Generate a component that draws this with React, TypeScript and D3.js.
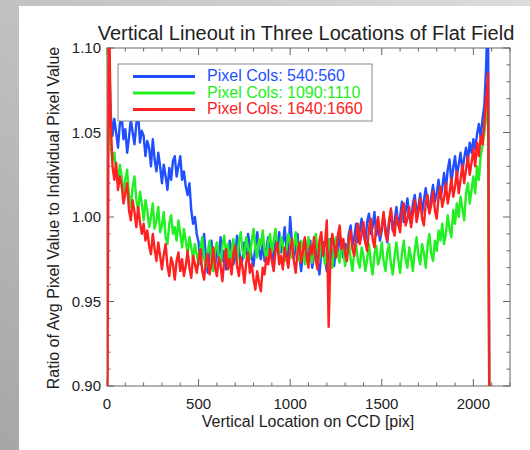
import React from 'react';
import * as d3 from 'd3';

const STEP = 10; // sampling step along CCD (pix)

const blueVals = [
  1.15, 1.10, 1.062, 1.048, 1.058, 1.05, 1.041, 1.055, 1.06, 1.046,
  1.052, 1.038, 1.047, 1.058, 1.05, 1.043, 1.055, 1.062, 1.044, 1.051,
  1.048, 1.036, 1.045, 1.041, 1.03, 1.046, 1.034, 1.027, 1.038, 1.03,
  1.02, 1.031, 1.024, 1.016, 1.029, 1.022, 1.033, 1.036, 1.024, 1.03,
  1.036, 1.022, 1.027, 1.018, 1.013, 1.02, 1.004, 0.996, 1.0, 0.99,
  0.985, 0.972, 0.98, 0.99, 0.976, 0.967, 0.978, 0.986, 0.974, 0.97,
  0.982, 0.976, 0.988, 0.974, 0.98, 0.969, 0.974, 0.986, 0.979, 0.972,
  0.977, 0.989, 0.982, 0.972, 0.975, 0.985, 0.978, 0.99, 0.983, 0.976,
  0.971, 0.983, 0.991, 0.98, 0.975, 0.986, 0.974, 0.981, 0.988, 0.977,
  0.982, 0.973, 0.986, 0.98, 0.991, 0.979, 0.984, 0.994, 0.981, 0.976,
  1.0, 0.984, 0.975, 0.982, 0.99, 0.977, 0.968, 0.98, 0.987, 0.974,
  0.979, 0.986, 0.97, 0.977, 0.984, 0.973, 0.966, 0.979, 0.985, 0.975,
  0.968, 0.98, 0.987, 0.976, 0.971, 0.983, 0.978, 0.99, 0.981, 0.976,
  0.984, 0.978, 0.99, 0.995, 0.983, 0.988, 0.996, 0.985, 0.992, 0.999,
  0.99, 0.985, 0.997, 1.002, 0.99, 0.994, 1.003, 0.989, 0.995, 0.986,
  0.992, 1.001, 0.994, 0.985, 0.996, 1.004, 0.992, 0.998, 1.006, 0.995,
  1.0, 1.009, 0.997, 1.003, 1.011, 1.0, 0.996, 1.008, 1.013, 1.003,
  1.006, 1.014, 1.002, 1.01, 1.017, 1.008, 1.003, 1.012, 1.019, 1.009,
  1.014, 1.022, 1.011, 1.017, 1.026, 1.016, 1.028, 1.034, 1.02, 1.029,
  1.036, 1.024, 1.031, 1.038, 1.027, 1.035, 1.041, 1.033, 1.044, 1.038,
  1.046, 1.04, 1.049, 1.055, 1.047, 1.058, 1.066, 1.09, 1.13, 0.80,
];

const greenVals = [
  1.12, 1.07, 1.042, 1.033, 1.038, 1.026, 1.02, 1.031, 1.024, 1.014,
  1.022, 1.028, 1.013, 1.006, 1.018, 1.024, 1.01, 1.004, 1.015, 1.008,
  0.998, 1.01, 1.004, 0.994, 1.0, 1.008, 0.993, 0.998, 1.006, 0.991,
  0.995, 1.003, 0.988, 0.984, 0.996, 1.001, 0.99, 0.994, 0.986, 0.998,
  0.99, 0.982, 0.993, 0.986, 0.978, 0.988, 0.982, 0.975, 0.984, 0.978,
  0.972, 0.982, 0.988, 0.976, 0.97, 0.979, 0.986, 0.975, 0.968, 0.98,
  0.985, 0.977, 0.971, 0.983, 0.989, 0.978, 0.984, 0.973, 0.98, 0.987,
  0.979, 0.972, 0.985, 0.991, 0.98, 0.976, 0.988, 0.982, 0.975, 0.986,
  0.993, 0.981, 0.976, 0.987, 0.983, 0.992, 0.98, 0.975, 0.985, 0.99,
  0.979, 0.986, 0.993, 0.982, 0.977, 0.988, 0.984, 0.974, 0.981, 0.99,
  0.985, 0.976, 0.982, 0.991, 0.98, 0.974, 0.986, 0.983, 0.972, 0.981,
  0.988, 0.978, 0.973, 0.984, 0.99, 0.98, 0.975, 0.986, 0.981, 0.972,
  0.979, 0.987, 0.976, 0.97, 0.982, 0.988, 0.978, 0.973, 0.985, 0.98,
  0.971, 0.978, 0.986, 0.975, 0.968, 0.98, 0.984, 0.974, 0.97, 0.982,
  0.977, 0.968, 0.975, 0.984, 0.973, 0.966, 0.978, 0.983, 0.972, 0.976,
  0.985, 0.974, 0.968, 0.979, 0.984, 0.972, 0.966, 0.977, 0.985, 0.975,
  0.967, 0.978, 0.986, 0.975, 0.97, 0.982, 0.976, 0.968, 0.98, 0.988,
  0.977, 0.972, 0.984, 0.979, 0.97, 0.983, 0.99, 0.978, 0.974, 0.986,
  0.98, 0.992, 0.986, 0.996, 0.984, 0.99, 1.001, 0.993, 0.988, 1.004,
  0.996, 1.008, 1.0, 1.012, 1.005, 0.998, 1.014, 1.02, 1.008, 1.016,
  1.024, 1.014, 1.03, 1.022, 1.036, 1.042, 1.05, 1.06, 1.068, 0.80,
];

const redVals = [
  0.80, 1.13, 1.058, 1.03, 1.022, 1.032, 1.016, 1.024, 1.019, 1.008,
  1.014, 1.02, 1.004, 0.998, 1.01, 1.003, 0.994, 1.006, 0.997, 0.99,
  0.996, 0.986, 0.992, 0.983, 0.978, 0.99, 0.981, 0.974, 0.985, 0.977,
  0.969, 0.978, 0.984, 0.971, 0.965, 0.976, 0.972, 0.963, 0.974, 0.979,
  0.968, 0.975, 0.965, 0.971, 0.98, 0.97, 0.964, 0.977, 0.972, 0.967,
  0.975, 0.981, 0.968, 0.963, 0.974, 0.978, 0.966, 0.972, 0.982, 0.97,
  0.965, 0.976, 0.971, 0.962, 0.974, 0.981, 0.969, 0.975, 0.966, 0.978,
  0.983, 0.971, 0.965, 0.976, 0.97, 0.961, 0.973, 0.979, 0.967, 0.972,
  0.963, 0.957, 0.968, 0.961, 0.956, 0.97, 0.966, 0.976, 0.972, 0.981,
  0.974, 0.968, 0.98, 0.985, 0.972, 0.977, 0.969, 0.982, 0.976, 0.97,
  0.981, 0.987, 0.974, 0.967, 0.979, 0.985, 0.973, 0.98, 0.988, 0.976,
  0.97, 0.983, 0.978, 0.988, 0.974, 0.969, 0.986, 0.991, 0.977, 0.984,
  0.998, 0.935, 0.978, 0.99, 0.983, 0.976, 0.989, 0.995, 0.981, 0.987,
  0.978, 0.974, 0.986, 0.992, 0.981, 0.977, 0.989, 0.996, 0.984, 0.99,
  0.997, 0.985, 0.98, 0.993, 0.999, 0.987, 0.982, 0.995, 1.0, 0.989,
  0.994, 1.003, 0.99, 0.986, 0.998, 1.005, 0.993, 0.989, 1.001, 0.996,
  0.991, 1.004, 1.008, 0.995, 0.999, 1.006, 0.994, 1.002, 1.01, 0.997,
  1.003, 1.011, 0.999, 0.995, 1.008, 1.013, 1.002, 1.007, 1.015, 1.004,
  0.999, 1.012, 1.018, 1.006, 1.011, 1.02, 1.008, 1.014, 1.023, 1.012,
  1.018, 1.027, 1.014, 1.022, 1.031, 1.02, 1.028, 1.036, 1.025, 1.032,
  1.04, 1.03, 1.044, 1.036, 1.048, 1.043, 1.056, 1.07, 1.085, 0.80,
];

const seriesLabels = ['Pixel Cols: 540:560', 'Pixel Cols: 1090:1110', 'Pixel Cols: 1640:1660'];
const seriesColors = ['#1f4fff', '#22f022', '#ff2020'];
const xTickValues = [0, 500, 1000, 1500, 2000];
const yTickValues = [0.9, 0.95, 1.0, 1.05, 1.1];

const FONT = "'Liberation Sans', Arial, Helvetica, sans-serif";

export default function App() {
  const W = 530, H = 450;
  const L = 107, R = 510, T = 48, B = 386;
  const x = d3.scaleLinear().domain([0, 2200]).range([L, R]);
  const y = d3.scaleLinear().domain([0.9, 1.1]).range([B, T]);
  const line = d3.line<number>().x((_, i) => x(i * STEP)).y(d => y(d));
  const series = [blueVals, greenVals, redVals];

  const xMinor = d3.range(0, 2201, 100).filter(v => v % 500 !== 0);
  const yMinor = d3.range(0, 21).map(i => 0.9 + i * 0.01).filter((_, i) => i % 5 !== 0);
  const axisColor = '#666';
  const MAJ = 7, MIN = 3.5;

  return (
    <svg width={W} height={H} style={{ position: 'absolute', left: 0, top: 0, display: 'block' }} fontFamily={FONT}>
      <defs>
        <linearGradient id="bg" x1="1" y1="0" x2="0" y2="1">
          <stop offset="0" stopColor="#dcdcdc" />
          <stop offset="1" stopColor="#a6a6a6" />
        </linearGradient>
        <clipPath id="plot">
          <rect x={L} y={T} width={R - L} height={B - T} />
        </clipPath>
      </defs>
      <rect x={0} y={0} width={W} height={H} fill="url(#bg)" />
      <rect x={19} y={6} width={W - 19} height={H - 6} fill="#ffffff" />

      <text x={306} y={40} textAnchor="middle" fontSize={20} fill="#222">
        Vertical Lineout in Three Locations of Flat Field
      </text>

      {/* axes frame */}
      <rect x={L} y={T} width={R - L} height={B - T} fill="none" stroke={axisColor} strokeWidth={1} />
      {xTickValues.map(v => (
        <g key={'xt' + v}>
          <line x1={x(v)} x2={x(v)} y1={B} y2={B - MAJ} stroke={axisColor} />
          <line x1={x(v)} x2={x(v)} y1={T} y2={T + MAJ} stroke={axisColor} />
          <text x={x(v)} y={409} textAnchor="middle" fontSize={15} fill="#222">{v}</text>
        </g>
      ))}
      {xMinor.map(v => (
        <g key={'xm' + v}>
          <line x1={x(v)} x2={x(v)} y1={B} y2={B - MIN} stroke={axisColor} />
          <line x1={x(v)} x2={x(v)} y1={T} y2={T + MIN} stroke={axisColor} />
        </g>
      ))}
      {yTickValues.map(v => (
        <g key={'yt' + v}>
          <line x1={L} x2={L + MAJ} y1={y(v)} y2={y(v)} stroke={axisColor} />
          <line x1={R} x2={R - MAJ} y1={y(v)} y2={y(v)} stroke={axisColor} />
          <text x={101} y={y(v) + 5} textAnchor="end" fontSize={15} fill="#222">{d3.format('.2f')(v)}</text>
        </g>
      ))}
      {yMinor.map(v => (
        <g key={'ym' + v.toFixed(2)}>
          <line x1={L} x2={L + MIN} y1={y(v)} y2={y(v)} stroke={axisColor} />
          <line x1={R} x2={R - MIN} y1={y(v)} y2={y(v)} stroke={axisColor} />
        </g>
      ))}

      <g clipPath="url(#plot)">
        {series.map((s, i) => (
          <path key={i} d={line(s) || ''} fill="none" stroke={seriesColors[i]} strokeWidth={2.4} strokeLinejoin="round" />
        ))}
      </g>

      {/* legend */}
      <rect x={118} y={64} width={254} height={57} fill="#fff" stroke="#888" strokeWidth={1} />
      {seriesLabels.map((lab, i) => {
        const by = 81 + i * 16.5;
        return (
          <g key={lab}>
            <line x1={133} x2={195} y1={by - 4.5} y2={by - 4.5} stroke={seriesColors[i]} strokeWidth={3} />
            <text x={207} y={by} fontSize={16} fill={seriesColors[i]}>{lab}</text>
          </g>
        );
      })}

      <text x={308} y={427} textAnchor="middle" fontSize={16} fill="#222">Vertical Location on CCD [pix]</text>
      <text transform={`translate(59,${(T + B) / 2 + 1}) rotate(-90)`} textAnchor="middle" fontSize={16} fill="#222">
        Ratio of Avg Pixel Value to Individual Pixel Value
      </text>
    </svg>
  );
}
